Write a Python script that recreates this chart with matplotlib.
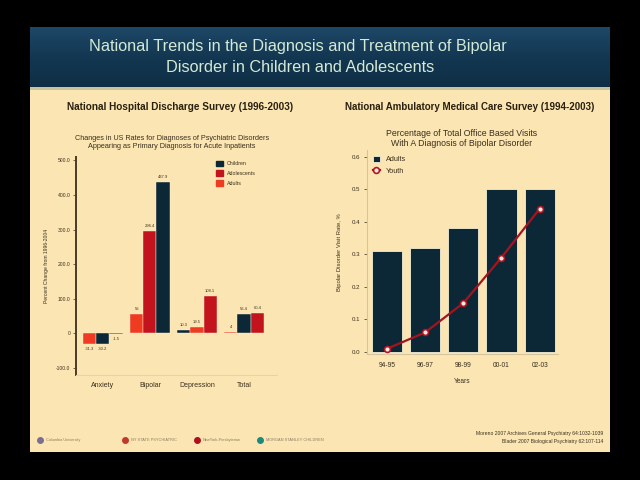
import numpy as np
import matplotlib
matplotlib.use("Agg")
import matplotlib.pyplot as plt
from matplotlib.patches import Rectangle
from matplotlib.colors import LinearSegmentedColormap

plt.rcParams['font.family'] = ['Liberation Sans', 'DejaVu Sans']

# ---------------- data ----------------
# Left panel: percent change 1996-2004 (NHDS)
categories = ["Anxiety", "Bipolar", "Depression", "Total"]
groups = ["Children", "Adolescents", "Adults"]
children = [-30.2, 437.9, 10.3, 56.4]
adolescents = [-1.5, 296.4, 108.1, 60.4]
adults = [-31.3, 56.0, 19.5, 4.0]
left_yticks = [-100, 0, 100, 200, 300, 400, 500]

# Right panel: % of office-based visits with bipolar diagnosis (NAMCS)
years = ["94-95", "96-97", "98-99", "00-01", "02-03"]
adult_rate = [0.31, 0.32, 0.38, 0.50, 0.50]
youth_rate = [0.01, 0.06, 0.15, 0.29, 0.44]
right_yticks = [0.0, 0.1, 0.2, 0.3, 0.4, 0.5, 0.6]

# ---------------- styling ----------------
CREAM = "#fbe6b3"
NAVY = "#0c2837"
DRED = "#c3141e"
LRED = "#ee3b22"
TXT = "#3a2e1c"
colors = {"Children": NAVY, "Adolescents": DRED, "Adults": LRED}

W, H = 640, 480
fig = plt.figure(figsize=(6.4, 4.8), dpi=100, facecolor="black")


def rect(l, t, r, b):
    return [l / W, 1 - b / H, (r - l) / W, (b - t) / H]


bg = fig.add_axes([0, 0, 1, 1])
bg.axis("off")
bg.set_facecolor("black")

# slide body
bg.add_patch(Rectangle((30, 27), 580, 425, facecolor=CREAM, edgecolor="none", zorder=0))
grad = np.linspace(0, 1, 64).reshape(-1, 1)
cm = LinearSegmentedColormap.from_list("ban", ["#1d4867", "#133751", "#0f2e45"])
bg.imshow(grad, extent=(30, 610, 88, 27), cmap=cm, aspect="auto", zorder=1)
bg.add_patch(Rectangle((30, 87), 580, 3, facecolor="#c9c39a", edgecolor="none", zorder=1))
bg.set_xlim(0, W)
bg.set_ylim(H, 0)

bg.text(298, 46, "National Trends in the Diagnosis and Treatment of Bipolar",
        ha="center", va="center", color="#d5ead6", fontsize=11.7, zorder=3)
bg.text(300, 68, "Disorder in Children and Adolescents",
        ha="center", va="center", color="#d5ead6", fontsize=11.7, zorder=3)

bg.text(180, 107, "National Hospital Discharge Survey (1996-2003)", ha="center", va="center",
        color="#2a2010", fontsize=7.2, fontweight="bold", zorder=3)
bg.text(172, 138, "Changes in US Rates for Diagnoses of Psychiatric Disorders", ha="center",
        va="center", color=TXT, fontsize=5.2, zorder=3)
bg.text(172, 147, "Appearing as Primary Diagnosis for Acute Inpatients", ha="center",
        va="center", color=TXT, fontsize=5.2, zorder=3)

bg.text(470, 107, "National Ambulatory Medical Care Survey (1994-2003)", ha="center", va="center",
        color="#2a2010", fontsize=7.0, fontweight="bold", zorder=3)
bg.text(462, 133, "Percentage of Total Office Based Visits", ha="center",
        va="center", color=TXT, fontsize=6.3, zorder=3)
bg.text(462, 143, "With A Diagnosis of Bipolar Disorder", ha="center",
        va="center", color=TXT, fontsize=6.3, zorder=3)

# footer
bg.text(603, 434, "Moreno 2007 Archives General Psychiatry 64:1032-1039", ha="right",
        va="center", color="#3a2e1c", fontsize=3.6, zorder=3)
bg.text(603, 442, "Blader 2007 Biological Psychiatry 62:107-114", ha="right",
        va="center", color="#3a2e1c", fontsize=3.6, zorder=3)
logo_specs = [(38, "#7a6f8f", "Columbia University"), (123, "#c0392b", "NY STATE PSYCHIATRIC"),
              (195, "#b0101c", "NewYork-Presbyterian"), (258, "#1f8a7a", "MORGAN STANLEY CHILDREN")]
for x0, c, name in logo_specs:
    bg.plot([x0 + 2], [440], marker="o", ms=4, color=c, zorder=3)
    bg.text(x0 + 8, 440, name, ha="left", va="center", color="#8a7a66", fontsize=2.8, zorder=3)

# ---------------- left chart ----------------
ax1 = fig.add_axes(rect(76, 157, 277, 375))
ax1.set_facecolor("none")
vals = {"Children": children, "Adolescents": adolescents, "Adults": adults}
bw = 0.28
for i, cat in enumerate(categories):
    entries = sorted(groups, key=lambda g: vals[g][i])
    for k, g in enumerate(entries):
        v = vals[g][i]
        x = i + (k - 1) * bw
        ax1.bar(x, v, width=bw, color=colors[g], edgecolor="#fff1d0", linewidth=0.3)
        if v >= 0:
            ax1.text(x, v + 8, f"{v:g}", ha="center", va="bottom", fontsize=3, color=TXT)
        else:
            ax1.text(x, v - 8, f"{v:g}", ha="center", va="top", fontsize=3, color=TXT)
ax1.set_xlim(-0.57, 3.7)
ax1.set_ylim(-120, 510)
ax1.set_yticks(left_yticks)
ax1.set_yticklabels([f"{t:.1f}" if t != 0 else "0" for t in left_yticks])
ax1.set_xticks(range(len(categories)))
ax1.set_xticklabels(categories)
ax1.tick_params(axis="y", labelsize=3.6, length=2, width=0.5, colors=TXT, pad=2)
ax1.tick_params(axis="x", labelsize=5, length=0, colors=TXT, pad=5)
for s in ["top", "right"]:
    ax1.spines[s].set_visible(False)
ax1.spines["left"].set_color("#4a3c24")
ax1.spines["left"].set_linewidth(1.4)
ax1.spines["bottom"].set_color("#e9d3a6")
ax1.spines["bottom"].set_linewidth(0.8)
ax1.set_ylabel("Percent Change from 1996-2004", fontsize=3.6, color=TXT, labelpad=5)
handles = [Rectangle((0, 0), 1, 1, color=colors[g]) for g in groups]
ax1.legend(handles, groups, loc="upper left", bbox_to_anchor=(0.68, 1.0), frameon=False,
           fontsize=3.8, handlelength=1.2, handleheight=1.2, labelspacing=0.8,
           labelcolor=TXT, borderaxespad=0.3)

# ---------------- right chart ----------------
ax2 = fig.add_axes(rect(367, 150, 558, 354))
ax2.set_facecolor("none")
xs = np.arange(len(years))
hb = ax2.bar(xs, adult_rate, width=0.79, color=NAVY, edgecolor="#f3efd8", linewidth=0.6,
             label="Adults", zorder=2)
hl, = ax2.plot(xs, youth_rate, color="#a5141e", lw=1.6, marker="o", ms=4.2,
               mfc="#ffe6e6", mec="#b01820", mew=1.2, label="Youth", zorder=3)
ax2.set_xlim(-0.52, 4.48)
ax2.set_ylim(-0.006, 0.62)
ax2.set_yticks(right_yticks)
ax2.set_yticklabels([f"{t:.1f}" for t in right_yticks])
ax2.set_xticks(xs)
ax2.set_xticklabels(years)
ax2.tick_params(axis="y", labelsize=4.4, length=2, width=0.5, colors=TXT, pad=3)
ax2.tick_params(axis="x", labelsize=4.8, length=0, colors=TXT, pad=6)
for s in ["top", "right"]:
    ax2.spines[s].set_visible(False)
ax2.spines["left"].set_color("#d9c49a")
ax2.spines["left"].set_linewidth(0.8)
ax2.spines["bottom"].set_color("#d9c49a")
ax2.spines["bottom"].set_linewidth(0.8)
ax2.set_xlabel("Years", fontsize=4.8, color=TXT, labelpad=6)
ax2.set_ylabel("Bipolar Disorder Visit Rate, %", fontsize=4.2, color=TXT, labelpad=7)
ax2.legend([hb, hl], ["Adults", "Youth"], loc="upper left", bbox_to_anchor=(0.0, 1.0),
           frameon=False, fontsize=5.2, handlelength=1.0, handleheight=1.0,
           labelspacing=0.5, labelcolor=TXT, borderaxespad=0.4)

fig.savefig("out.png", dpi=100, facecolor="black")
